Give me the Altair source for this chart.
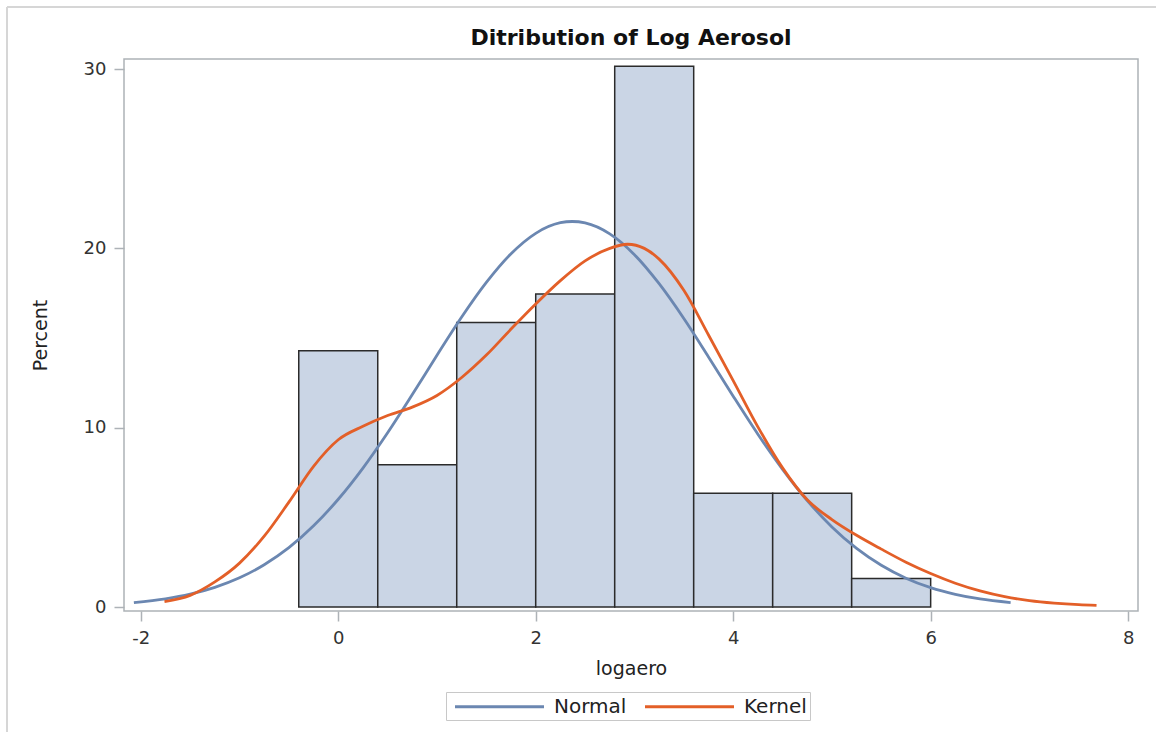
import altair as alt
import pandas as pd

# Histogram bins (logaero) and percents
bin_start = [-0.4, 0.4, 1.2, 2.0, 2.8, 3.6, 4.4, 5.2]
bin_end = [0.4, 1.2, 2.0, 2.8, 3.6, 4.4, 5.2, 6.0]
bin_pct = [14.29, 7.94, 15.87, 17.46, 30.16, 6.35, 6.35, 1.59]

# Normal curve
normal_x = [-2.07, -1.75, -1.5, -1.25, -1.0, -0.75, -0.5, -0.25, 0.0, 0.25, 0.5, 0.75,
            1.0, 1.25, 1.5, 1.75, 2.0, 2.25, 2.37, 2.5, 2.75, 3.0, 3.25, 3.5, 3.75,
            4.0, 4.25, 4.5, 4.75, 5.0, 5.25, 5.5, 5.75, 6.0, 6.25, 6.5, 6.81]
normal_y = [0.25, 0.46, 0.72, 1.10, 1.63, 2.36, 3.31, 4.53, 6.01, 7.75, 9.72, 11.85,
            14.04, 16.17, 18.10, 19.70, 20.84, 21.43, 21.5, 21.42, 20.81, 19.65, 18.03, 16.09, 13.95,
            11.76, 9.64, 7.68, 5.94, 4.47, 3.27, 2.33, 1.61, 1.08, 0.71, 0.45, 0.25]

# Kernel density curve
kernel_x = [-1.76, -1.5, -1.25, -1.0, -0.75, -0.5, -0.25, 0.0, 0.25, 0.5, 0.75, 1.0,
            1.25, 1.5, 1.75, 2.0, 2.25, 2.5, 2.75, 2.93, 3.1, 3.25, 3.5, 3.75, 4.0,
            4.25, 4.5, 4.75, 5.0, 5.25, 5.5, 5.75, 6.0, 6.25, 6.5, 6.75, 7.0, 7.25, 7.5, 7.68]
kernel_y = [0.30, 0.65, 1.40, 2.45, 3.95, 5.85, 7.85, 9.33, 10.08, 10.68, 11.15, 11.8,
            12.8, 14.05, 15.5, 16.9, 18.2, 19.3, 20.0, 20.23, 20.0, 19.4, 17.66, 15.17, 12.63,
            10.05, 7.76, 5.98, 4.88, 4.0, 3.23, 2.5, 1.87, 1.33, 0.9, 0.58, 0.36, 0.22, 0.13, 0.09]

x_ticks = [-2, 0, 2, 4, 6, 8]
y_ticks = [0, 10, 20, 30]

bars = pd.DataFrame({"start": bin_start, "end": bin_end, "pct": bin_pct})
normal = pd.DataFrame({"x": normal_x, "y": normal_y, "curve": "Normal"})
kernel = pd.DataFrame({"x": kernel_x, "y": kernel_y, "curve": "Kernel"})

FONT = "DejaVu Sans"
xscale = alt.Scale(domain=[-2.17, 8.1], nice=False, zero=False)
yscale = alt.Scale(domain=[-0.22, 30.56], nice=False, zero=False)

xaxis = alt.Axis(values=x_ticks, title="logaero", grid=False, domain=False,
                 labelExpr="'' + datum.value")
yaxis = alt.Axis(values=y_ticks, title="Percent", grid=False, domain=False,
                 labelExpr="'' + datum.value")

hist = alt.Chart(bars).mark_rect(
    fill="#CAD5E5", stroke="#2B2B2B", strokeWidth=1.5
).encode(
    x=alt.X("start:Q", scale=xscale, axis=xaxis),
    x2="end:Q",
    y=alt.Y("pct:Q", scale=yscale, axis=yaxis),
    y2=alt.datum(0),
)

color = alt.Color(
    "curve:N",
    scale=alt.Scale(domain=["Normal", "Kernel"], range=["#6B87B1", "#E35F28"]),
    legend=alt.Legend(
        title=None, orient="none", direction="horizontal",
        legendX=322, legendY=633,
        symbolType="M-0.55,0H8.35", symbolStrokeWidth=3, symbolSize=400,
        labelFont=FONT, labelFontSize=20, labelColor="#222222",
        labelOffset=82, columnPadding=12,
        strokeColor="#C8C8C8", fillColor="white", padding=3,
    ),
)

line_n = alt.Chart(normal).mark_line(strokeWidth=2.8, interpolate="monotone").encode(
    x=alt.X("x:Q", scale=xscale), y=alt.Y("y:Q", scale=yscale), color=color
)
line_k = alt.Chart(kernel).mark_line(strokeWidth=2.8, interpolate="monotone").encode(
    x=alt.X("x:Q", scale=xscale), y=alt.Y("y:Q", scale=yscale), color=color
)

# light page frame (top and left edges)
border_v = alt.Chart(bars).mark_rule(color="#D6D6D6", strokeWidth=2).encode(
    x=alt.value(-117), y=alt.value(-52), y2=alt.value(673)
)
border_h = alt.Chart(bars).mark_rule(color="#D6D6D6", strokeWidth=2).encode(
    x=alt.value(-117), x2=alt.value(1032), y=alt.value(-52)
)

chart = alt.layer(hist, line_n, line_k, border_v, border_h).properties(
    width=1014, height=552,
    autosize=alt.AutoSizeParams(type="none"),
    padding={"left": 124, "top": 59, "right": 18, "bottom": 121},
    title=alt.TitleParams(
        "Ditribution of Log Aerosol", font=FONT, fontSize=22, fontWeight="bold",
        color="#111111", anchor="middle", offset=-44,
    ),
).configure_view(
    stroke="#ADB2B7", strokeWidth=1.5
).configure_axis(
    labelFont=FONT, labelFontSize=18, labelColor="#333333",
    titleFont=FONT, titleFontSize=19, titleColor="#222222", titleFontWeight="normal",
    tickColor="#ADB2B7", tickWidth=1.5, tickSize=10, labelPadding=8,
).configure_axisY(
    titlePadding=33
).configure_axisX(
    titlePadding=12
)

chart.save("out.html", embed_options={"renderer": "svg", "actions": False})
